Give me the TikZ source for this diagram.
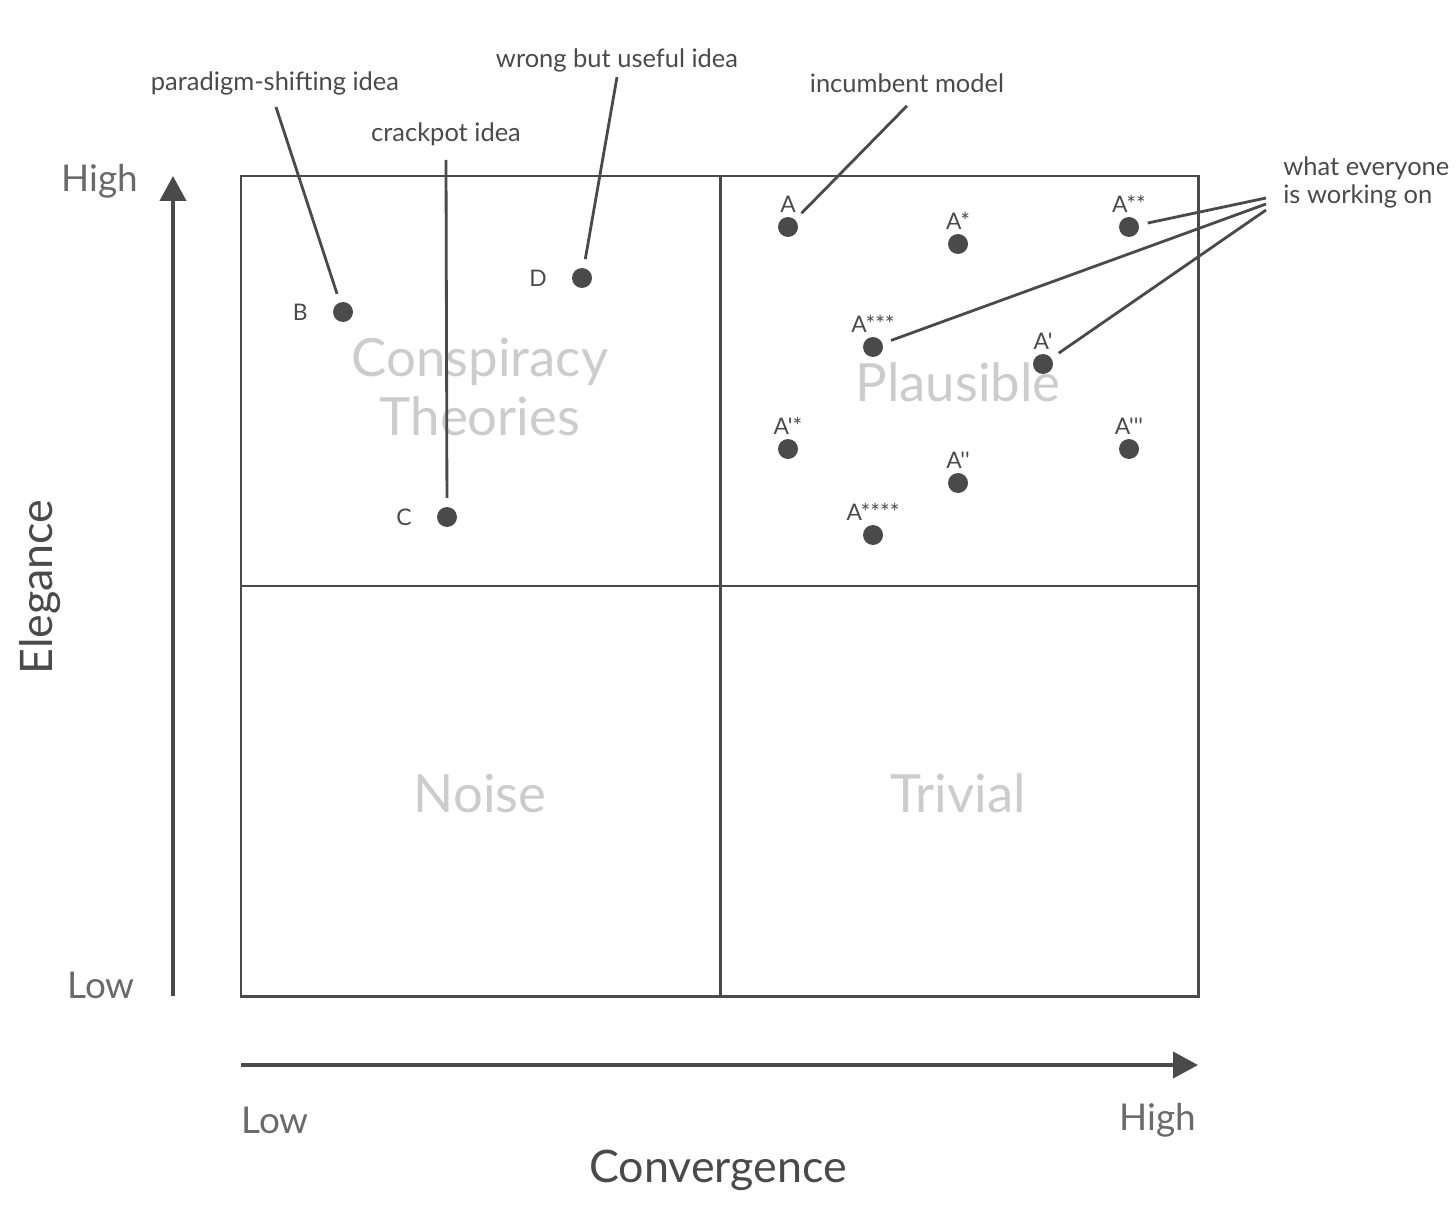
\documentclass[tikz,border=0pt]{standalone}
\usepackage{fontspec}
\setmainfont{Lato}
\newfontfamily\ptfont{Lato}[Ligatures=TeXOff]
\usetikzlibrary{arrows.meta,positioning}
\definecolor{ink}{HTML}{4A4A4A}
\definecolor{quad}{HTML}{CCCCCC}
\definecolor{tick}{HTML}{6A6A6A}
\begin{document}
\begin{tikzpicture}[x=0.02cm, y=-0.02cm,
  every node/.style={text=ink},
  dot/.style={circle, fill=ink, minimum size=0.4cm, inner sep=0pt},
  ptlabel/.style={font=\ptfont\fontsize{13}{15}\selectfont, inner sep=1pt},
  note/.style={font=\fontsize{14.5}{16}\selectfont, inner sep=0pt},
  pointer/.style={draw=ink, line width=1.6pt, shorten >=5pt},
  quadname/.style={font=\fontsize{30}{34}\selectfont, text=quad, align=center},
  tickname/.style={font=\fontsize{21}{24}\selectfont, text=tick},
  axisname/.style={font=\fontsize{25.5}{28}\selectfont}]
  \useasboundingbox (0,0) rectangle (1456,1226);
  % quadrant names first, so dots and lines sit on top
  \node[quadname] (ct) at (480,387) {Conspiracy\\Theories};
  \node[quadname] (pl) at (958,382) {Plausible};
  \node[quadname] (no) at (480,793) {Noise};
  \node[quadname] (tr) at (958,793) {Trivial};
  % grid
  \draw[ink, line width=1.7pt] (241,176) rectangle (1198,996);
  \draw[ink, line width=1.7pt] (720,176) -- (720,996);
  \draw[ink, line width=1.7pt] (241,586) -- (1198,586);
  % axes
  \draw[ink, line width=2.3pt, -{Triangle[length=0.5cm, width=0.52cm]}] (173,996) -- (173,176);
  \draw[ink, line width=2.3pt, -{Triangle[length=0.5cm, width=0.52cm]}] (241,1065) -- (1198,1065);
  \node[tickname] (yhi) at (100,181) {High};
  \node[tickname] (ylo) at (101,985) {Low};
  \node[tickname] (xlo) at (275,1120) {Low};
  \node[tickname] (xhi) at (1158,1120) {High};
  \node[axisname] (xname) at (718,1170) {Convergence};
  \node[axisname, rotate=90] (yname) at (40,587) {Elegance};
  % ideas
  \node[dot] (B) at (343,312) {};
  \node[dot] (D) at (582,278) {};
  \node[dot] (C) at (447,517) {};
  \node[ptlabel, left=13pt of B] (lB) {B};
  \node[ptlabel, left=13pt of D] (lD) {D};
  \node[ptlabel, left=13pt of C] (lC) {C};
  \node[dot] (A) at (788,227) {};
  \node[dot] (As) at (958,244) {};
  \node[dot] (Ass) at (1129,227) {};
  \node[dot] (Asss) at (873,347) {};
  \node[dot] (Ap) at (1043,364) {};
  \node[dot] (Aps) at (788,449) {};
  \node[dot] (Appp) at (1129,449) {};
  \node[dot] (App) at (958,483) {};
  \node[dot] (Assss) at (873,535) {};
  \node[ptlabel, above=1pt of A] (lA) {A};
  \node[ptlabel, above=1pt of As] (lAs) {A*};
  \node[ptlabel, above=1pt of Ass] (lAss) {A**};
  \node[ptlabel, above=1pt of Asss] (lAsss) {A***};
  \node[ptlabel, above=1pt of Ap] (lAp) {A'};
  \node[ptlabel, above=1pt of Aps] (lAps) {A'*};
  \node[ptlabel, above=1pt of Appp] (lAppp) {A'''};
  \node[ptlabel, above=1pt of App] (lApp) {A''};
  \node[ptlabel, above=1pt of Assss] (lAssss) {A****};
  % notes
  \node[note] (ps) at (275,83) {paradigm-shifting idea};
  \node[note] (cp) at (446,134) {crackpot idea};
  \node[note] (wu) at (617,60) {wrong but useful idea};
  \node[note] (im) at (907,83) {incumbent model};
  \node[note, align=left, anchor=west] (we) at (1283,182) {what everyone\\is working on};
  \draw[pointer] ([shift={(1,12)}]ps.south) -- (B);
  \draw[pointer] ([shift={(0,14)}]cp.south) -- (C);
  \draw[pointer] ([shift={(0,5)}]wu.south) -- (D);
  \draw[pointer] ([shift={(0,13)}]im.south) -- (A);
  \draw[pointer] ([shift={(-17,16)}]we.west) -- (Ass);
  \draw[pointer] ([shift={(-17,22)}]we.west) -- (Asss);
  \draw[pointer] ([shift={(-17,28)}]we.west) -- (Ap);
\end{tikzpicture}
\end{document}
